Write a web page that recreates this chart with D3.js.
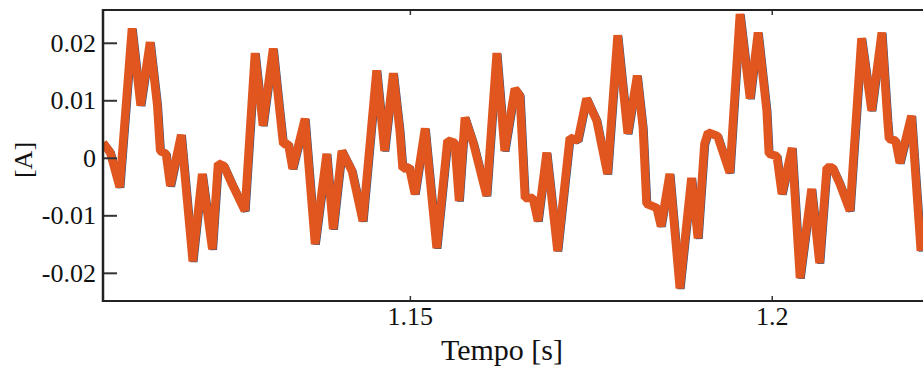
<!DOCTYPE html>
<html>
<head>
<meta charset="utf-8">
<script src="https://cdn.jsdelivr.net/npm/d3@7"></script>
<style>
  html, body { margin: 0; padding: 0; background: #ffffff; }
  svg { display: block; }
  text { font-family: "Liberation Serif", "DejaVu Serif", serif; fill: #111; }
</style>
</head>
<body>
<svg id="chart" width="923" height="371"></svg>
<script>
// ---- Data (time in s, current in A) ----
const times = [
  1.1076, 1.1086, 1.1099, 1.1116, 1.1128, 1.1141, 1.1151, 1.1155, 1.1163, 1.1169,
  1.1184, 1.1200, 1.1213, 1.1227, 1.1235, 1.1243, 1.1254, 1.1272, 1.1286, 1.1297,
  1.1311, 1.1320, 1.1325, 1.1332, 1.1338, 1.1355, 1.1369, 1.1385, 1.1394, 1.1406,
  1.1420, 1.1435, 1.1454, 1.1465, 1.1477, 1.1486, 1.1490, 1.1499, 1.1507, 1.1521,
  1.1537, 1.1552, 1.1562, 1.1568, 1.1576, 1.1588, 1.1606, 1.1620, 1.1631, 1.1645,
  1.1652, 1.1659, 1.1670, 1.1677, 1.1689, 1.1704, 1.1721, 1.1732, 1.1744, 1.1758,
  1.1773, 1.1787, 1.1801, 1.1814, 1.1822, 1.1827, 1.1841, 1.1847, 1.1859, 1.1873,
  1.1889, 1.1898, 1.1907, 1.1912, 1.1925, 1.1942, 1.1956, 1.1970, 1.1981, 1.1993,
  1.1996, 1.2007, 1.2014, 1.2028, 1.2039, 1.2055, 1.2066, 1.2076, 1.2084, 1.2094,
  1.2108, 1.2124, 1.2138, 1.2152, 1.2160, 1.2162, 1.2171, 1.2177, 1.2193, 1.2206
];
const current = [
  0.0026, 0.0009, -0.0051, 0.0225, 0.0091, 0.0201, 0.0091, 0.0012, 0.0007, -0.0049,
  0.0040, -0.0180, -0.0028, -0.0159, -0.0010, -0.0014, -0.0045, -0.0092, 0.0182, 0.0056,
  0.0190, 0.0082, 0.0024, 0.0024, -0.0019, 0.0068, -0.0150, 0.0007, -0.0124, 0.0012,
  -0.0023, -0.0110, 0.0152, 0.0012, 0.0147, 0.0047, -0.0019, -0.0016, -0.0063, 0.0051,
  -0.0157, 0.0030, 0.0026, -0.0075, 0.0070, 0.0024, -0.0066, 0.0182, 0.0012, 0.0120,
  0.0108, -0.0070, -0.0070, -0.0110, 0.0009, -0.0162, 0.0035, 0.0030, 0.0103, 0.0065,
  -0.0028, 0.0213, 0.0042, 0.0143, 0.0052, -0.0080, -0.0087, -0.0119, -0.0028, -0.0227,
  -0.0035, -0.0140, 0.0024, 0.0044, 0.0038, -0.0026, 0.0250, 0.0103, 0.0218, 0.0082,
  0.0007, 0.0003, -0.0063, 0.0017, -0.0209, -0.0054, -0.0183, -0.0017, -0.0017, -0.0045,
  -0.0092, 0.0208, 0.0082, 0.0218, 0.0065, 0.0033, 0.0030, -0.0009, 0.0073, -0.0162
];
const xDomain = [1.1076, 1.2209];
const yDomain = [-0.0249, 0.0257];
const xTicks = [1.15, 1.2];
const xTickLabels = ["1.15", "1.2"];
const yTicks = [-0.02, -0.01, 0, 0.01, 0.02];
const yTickLabels = ["-0.02", "-0.01", "0", "0.01", "0.02"];
const xTitle = "Tempo [s]";
const yTitle = "[A]";

// ---- Layout ----
const plot = { left: 103, right: 923, top: 10, bottom: 301 };
const svg = d3.select("#chart");

const x = d3.scaleLinear().domain(xDomain).range([plot.left, plot.right]);
const y = d3.scaleLinear().domain(yDomain).range([plot.bottom, plot.top]);

const data = times.map((t, i) => ({ t, v: current[i] }));

svg.append("defs").append("clipPath").attr("id", "clip")
  .append("rect")
  .attr("x", plot.left + 1).attr("y", plot.top + 1)
  .attr("width", plot.right - plot.left).attr("height", plot.bottom - plot.top - 2);

const line = d3.line().x(d => x(d.t)).y(d => y(d.v));

const g = svg.append("g").attr("clip-path", "url(#clip)");
// underlying (blue) trace, mostly hidden by the orange one
g.append("path").datum(data)
  .attr("d", line)
  .attr("fill", "none")
  .attr("stroke", "#34507a")
  .attr("stroke-width", 7)
  .attr("stroke-linejoin", "bevel")
  .attr("transform", "translate(1.3,0.5)");
g.append("path").datum(data)
  .attr("d", line)
  .attr("fill", "none")
  .attr("stroke", "#e0561e")
  .attr("stroke-width", 8.5)
  .attr("stroke-linejoin", "bevel");

// ---- Axes ----
const fmtX = d => xTickLabels[xTicks.indexOf(d)];
const fmtY = d => yTickLabels[yTicks.indexOf(d)];

const yAxis = svg.append("g")
  .attr("transform", `translate(${plot.left},0)`)
  .call(d3.axisLeft(y).tickValues(yTicks).tickFormat(fmtY)
    .tickSizeInner(-14).tickSizeOuter(0).tickPadding(7));
yAxis.attr("font-family", null).attr("font-size", null);
yAxis.select(".domain").remove();
yAxis.selectAll(".tick line").attr("stroke", "#333").attr("stroke-width", 2);
yAxis.selectAll(".tick text").attr("font-size", 26)
  .attr("font-family", "Liberation Serif").attr("fill", "#111");

const xAxis = svg.append("g")
  .attr("transform", `translate(0,${plot.bottom})`)
  .call(d3.axisBottom(x).tickValues(xTicks).tickFormat(fmtX)
    .tickSizeInner(-5).tickSizeOuter(0).tickPadding(6));
xAxis.attr("font-family", null).attr("font-size", null);
xAxis.select(".domain").remove();
xAxis.selectAll(".tick line").attr("stroke", "#333").attr("stroke-width", 1.5);
xAxis.selectAll(".tick text").attr("font-size", 26)
  .attr("font-family", "Liberation Serif").attr("fill", "#111");

const xAxisTop = svg.append("g")
  .attr("transform", `translate(0,${plot.top})`)
  .call(d3.axisTop(x).tickValues(xTicks).tickFormat("")
    .tickSizeInner(-5).tickSizeOuter(0));
xAxisTop.select(".domain").remove();
xAxisTop.selectAll(".tick line").attr("stroke", "#333").attr("stroke-width", 1.5);

// ---- Frame ----
svg.append("line")
  .attr("x1", plot.left - 1).attr("x2", plot.right)
  .attr("y1", plot.top).attr("y2", plot.top)
  .attr("stroke", "#222").attr("stroke-width", 2);
svg.append("line")
  .attr("x1", plot.left - 1).attr("x2", plot.right)
  .attr("y1", plot.bottom).attr("y2", plot.bottom)
  .attr("stroke", "#222").attr("stroke-width", 2);
svg.append("line")
  .attr("x1", plot.left).attr("x2", plot.left)
  .attr("y1", plot.top - 1).attr("y2", plot.bottom + 1)
  .attr("stroke", "#222").attr("stroke-width", 2.5);

// ---- Titles ----
svg.append("text")
  .attr("x", 502).attr("y", 360)
  .attr("text-anchor", "middle")
  .attr("font-size", 30)
  .text(xTitle);
svg.append("text")
  .attr("transform", "translate(32,160) rotate(-90)")
  .attr("text-anchor", "middle")
  .attr("font-size", 26)
  .text(yTitle);
</script>
</body>
</html>
